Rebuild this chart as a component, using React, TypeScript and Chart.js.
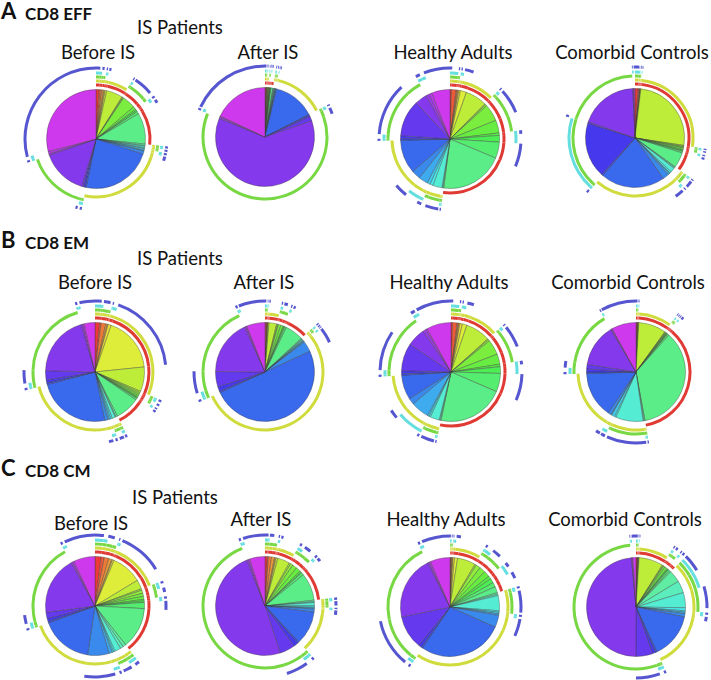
import React, { useEffect, useRef } from "react";
import { Chart, registerables } from "chart.js";

Chart.register(...registerables);

// 31 Boolean categories (markers: red, yellow, green, cyan, blue)
const categories = [
  "11111", "11110", "11101", "11100", "11011", "11010", "11001", "11000",
  "10111", "10110", "10101", "10100", "10011", "10010", "10001", "10000",
  "01111", "01110", "01101", "01100", "01011", "01010", "01001", "01000",
  "00111", "00110", "00101", "00100", "00011", "00010", "00001",
];

// CD8 EFF
const effBefore = [1.0, 0.5, 0.5, 0.5, 0.3, 0.3, 0.5, 5.5, 0.3, 0.3, 4.5, 1.0, 0.5, 0.5, 0.8, 10.5, 0.5, 0.3, 0.5, 0.3, 0.5, 0.3, 1.0, 24.0, 0.5, 0.5, 0.5, 15.5, 0.5, 0.8, 30.0];
const effAfter = [0.3, 0.1, 0.1, 0.1, 0.1, 0.1, 0.1, 0.2, 0.1, 0.1, 0.2, 0.1, 0.1, 0.1, 0.2, 0.6, 0.2, 0.2, 0.2, 0.2, 0.1, 0.1, 0.3, 14.0, 0.3, 0.5, 1.5, 63.0, 0.5, 0.3, 18.5];
const effHealthy = [0.5, 1.5, 0.3, 0.3, 0.3, 0.5, 2.0, 7.1, 0.3, 0.5, 5.6, 4.2, 0.8, 2.2, 5.3, 20.8, 0.3, 0.3, 3.0, 1.0, 1.0, 3.0, 3.0, 11.0, 0.5, 1.0, 12.0, 4.0, 1.0, 1.0, 6.0];
const effComorbid = [1.0, 0.3, 0.2, 0.1, 0.1, 0.1, 0.1, 25.5, 0.3, 0.3, 0.3, 0.5, 0.3, 0.3, 0.5, 5.0, 0.3, 0.3, 1.5, 0.5, 0.3, 0.5, 2.0, 21.0, 0.5, 18.0, 0.5, 19.0, 0.2, 0.2, 0.3];

// CD8 EM
const emBefore = [1.5, 0.5, 1.5, 0.5, 0.3, 1.0, 18.0, 8.0, 0.5, 0.5, 0.5, 0.5, 0.3, 0.3, 0.5, 8.0, 0.5, 0.3, 1.0, 0.5, 0.5, 0.5, 1.0, 24.0, 0.5, 1.0, 3.0, 20.0, 0.5, 0.5, 3.5];
const emAfter = [0.3, 0.3, 0.1, 0.1, 0.1, 0.1, 0.3, 2.5, 0.3, 0.3, 0.8, 0.8, 0.3, 0.3, 0.5, 6.0, 0.3, 0.2, 0.3, 0.2, 0.2, 0.3, 3.5, 50.0, 0.5, 1.5, 5.0, 18.0, 0.5, 0.3, 6.0];
const emHealthy = [0.5, 1.5, 0.3, 0.3, 0.3, 0.8, 1.5, 8.1, 0.3, 0.5, 5.0, 3.3, 0.8, 2.2, 6.0, 21.7, 0.3, 0.3, 3.0, 0.5, 0.5, 6.0, 2.0, 8.0, 0.5, 1.0, 9.0, 6.0, 1.0, 0.5, 8.0];
const emComorbid = [0.3, 0.1, 0.1, 0.1, 0.1, 0.1, 0.1, 9.0, 0.2, 0.2, 0.2, 0.2, 0.2, 0.2, 0.5, 35.5, 0.3, 0.3, 9.0, 0.5, 1.0, 0.3, 1.0, 15.0, 0.5, 1.0, 1.5, 14.0, 0.3, 0.2, 8.0];

// CD8 CM
const cmBefore = [2.0, 1.0, 1.5, 1.0, 0.3, 0.5, 10.0, 3.0, 0.5, 1.0, 1.0, 1.0, 0.5, 0.5, 2.0, 13.5, 1.0, 1.0, 2.0, 0.5, 0.5, 1.0, 7.0, 17.0, 0.5, 1.0, 2.0, 19.0, 0.5, 0.5, 7.0];
const cmAfter = [0.8, 0.3, 1.0, 1.0, 0.3, 0.3, 0.5, 4.0, 0.5, 0.8, 1.5, 1.5, 0.5, 0.3, 0.8, 9.0, 0.5, 0.3, 1.0, 0.5, 0.3, 0.3, 1.0, 11.0, 0.5, 1.5, 5.0, 49.0, 0.5, 0.5, 5.0];
const cmHealthy = [0.2, 0.2, 0.2, 0.2, 0.2, 0.5, 1.0, 6.0, 0.5, 1.5, 2.0, 2.0, 1.0, 1.5, 1.5, 2.0, 0.5, 0.5, 5.0, 0.5, 0.5, 0.5, 4.0, 28.0, 0.5, 1.0, 11.0, 21.0, 0.5, 0.5, 6.5];
const cmComorbid = [0.4, 0.1, 0.1, 0.1, 0.1, 0.1, 0.1, 8.0, 0.3, 0.3, 0.5, 0.8, 0.3, 0.3, 0.5, 0.5, 4.0, 4.0, 5.0, 1.0, 0.5, 0.5, 1.0, 15.0, 0.5, 1.0, 5.5, 49.0, 0.2, 0.3, 1.0];

const rowLetters = ["A", "B", "C"];
const rowTitles = ["CD8 EFF", "CD8 EM", "CD8 CM"];
const groupHeader = "IS Patients";
const groupTitles = ["Before IS", "After IS", "Healthy Adults", "Comorbid Controls"];
const panelValues = [
  [effBefore, effAfter, effHealthy, effComorbid],
  [emBefore, emAfter, emHealthy, emComorbid],
  [cmBefore, cmAfter, cmHealthy, cmComorbid],
];

// ---- styling / layout ----
const markerColors = ["#e03a34", "#d0dc3e", "#78d844", "#64dede", "#5656d0"];
const FONT = "Lato, 'Open Sans', sans-serif";
const SIZE = 152;
const pieCenters = [
  [[96, 139], [265, 137], [450, 139], [635, 138]],
  [[95, 372], [265, 372], [451, 372], [636, 372]],
  [[95, 606], [265, 606], [450, 607], [636, 607]],
];
const rowHeaderBase = [20, 249, 477];
const groupHeaderPos = [[137, 34], [137, 265], [132, 504]];
const titleCenters = [
  [[98, 59], [268, 59], [453, 59], [632, 59]],
  [[95, 289], [264, 289], [449, 289], [628, 289]],
  [[91, 530], [261, 526], [446, 526], [625, 526]],
];
// hue anchors (category index -> hue) for the rainbow palette
const hueAnchors = [[0, 0], [7, 76], [15, 138], [23, 224], [27, 265], [30, 290]];

function hsv(h: number, s: number, v: number) {
  const f = (n: number) => {
    const k = (n + h / 60) % 6;
    return v - v * s * Math.max(Math.min(k, 4 - k, 1), 0);
  };
  return `rgb(${Math.round(f(5) * 255)},${Math.round(f(3) * 255)},${Math.round(f(1) * 255)})`;
}

function hueFor(i: number) {
  for (let a = 0; a < hueAnchors.length - 1; a++) {
    const [i0, h0] = hueAnchors[a];
    const [i1, h1] = hueAnchors[a + 1];
    if (i >= i0 && i <= i1) return h0 + ((h1 - h0) * (i - i0)) / (i1 - i0);
  }
  return hueAnchors[hueAnchors.length - 1][1];
}

const sliceColors = categories.map((_, i) => {
  const h = hueFor(i);
  const s = 0.76 - 0.16 * Math.exp(-Math.pow((h - 150) / 35, 2));
  return hsv(h, s, 0.93);
});

function spacer(w: number) {
  return { data: [1], backgroundColor: ["rgba(0,0,0,0)"], borderWidth: 0, weight: w };
}

function Pie({ values, cx, cy }: { values: number[]; cx: number; cy: number }) {
  const ref = useRef<HTMLCanvasElement | null>(null);
  useEffect(() => {
    if (!ref.current) return;
    const ring = (m: number) => ({
      data: values,
      backgroundColor: categories.map((c) => (c[m] === "1" ? markerColors[m] : "rgba(0,0,0,0)")),
      borderWidth: 0,
      weight: 3,
    });
    const datasets: any[] = [
      spacer(3.5),
      ring(4),
      spacer(2),
      ring(3),
      spacer(1),
      ring(2),
      spacer(1),
      ring(1),
      spacer(1),
      ring(0),
      spacer(3),
      {
        data: values,
        backgroundColor: sliceColors,
        borderColor: "rgba(60,60,60,0.55)",
        borderWidth: 0.7,
        weight: 49.5,
      },
    ];
    const chart = new Chart(ref.current, {
      type: "pie",
      data: { labels: categories, datasets },
      options: {
        responsive: false,
        animation: false,
        events: [],
        layout: { padding: 0 },
        plugins: { legend: { display: false }, tooltip: { enabled: false } },
      },
    } as any);
    return () => chart.destroy();
  }, [values]);
  return (
    <canvas
      ref={ref}
      width={SIZE}
      height={SIZE}
      style={{ position: "absolute", left: cx - SIZE / 2, top: cy - SIZE / 2, width: SIZE, height: SIZE }}
    />
  );
}

function Text({ text, x, base, size, bold, center }: { text: string; x: number; base: number; size: number; bold?: boolean; center?: boolean }) {
  const top = base - 0.887 * size;
  return (
    <div
      style={{
        position: "absolute",
        left: center ? x - 150 : x,
        width: center ? 300 : undefined,
        textAlign: center ? "center" : "left",
        top,
        fontFamily: FONT,
        fontSize: size,
        lineHeight: 1,
        fontWeight: bold ? 700 : 400,
        whiteSpace: "nowrap",
        color: "#111",
      }}
    >
      {text}
    </div>
  );
}

export default function App() {
  return (
    <div style={{ position: "absolute", left: 0, top: 0, width: 711, height: 680, background: "#fff", overflow: "hidden" }}>
      {rowLetters.map((letter, r) => (
        <React.Fragment key={letter}>
          <Text text={letter} x={1} base={rowHeaderBase[r]} size={22} bold />
          <Text text={rowTitles[r]} x={25} base={rowHeaderBase[r]} size={17} bold />
          <Text text={groupHeader} x={groupHeaderPos[r][0]} base={groupHeaderPos[r][1]} size={18.5} />
          {groupTitles.map((t, c) => (
            <Text key={t} text={t} x={titleCenters[r][c][0]} base={titleCenters[r][c][1]} size={18.5} center />
          ))}
          {panelValues[r].map((vals, c) => (
            <Pie key={c} values={vals} cx={pieCenters[r][c][0]} cy={pieCenters[r][c][1]} />
          ))}
        </React.Fragment>
      ))}
    </div>
  );
}
